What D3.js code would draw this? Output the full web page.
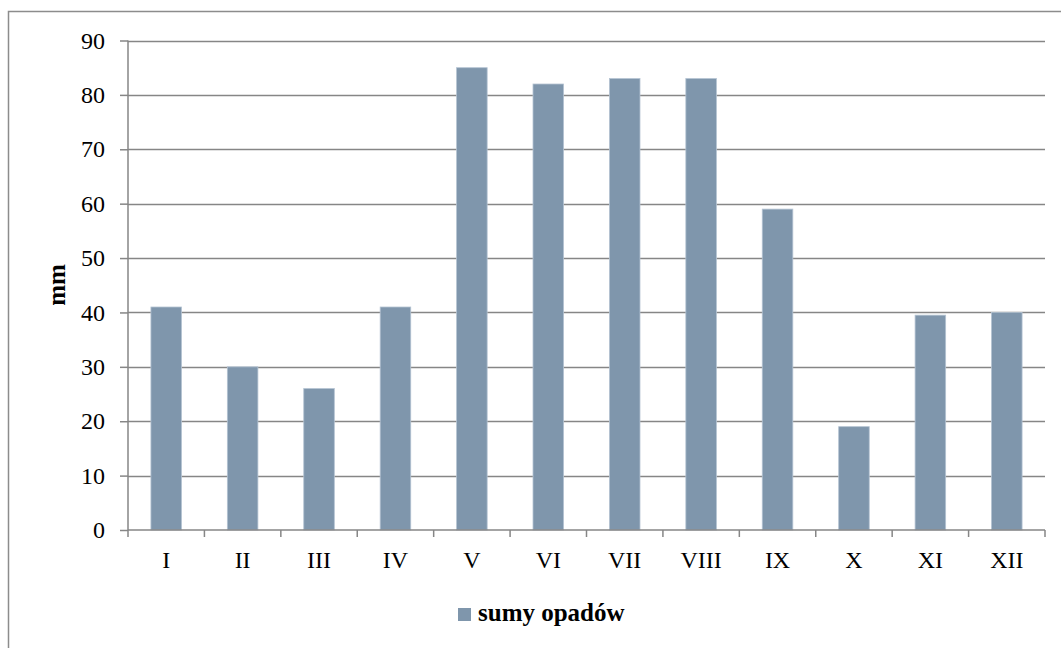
<!DOCTYPE html>
<html><head><meta charset="utf-8">
<script src="https://cdn.jsdelivr.net/npm/d3@7"></script>
<style>body{margin:0;background:#fff}svg{display:block}</style>
</head><body>
<script>
const categories = ["I","II","III","IV","V","VI","VII","VIII","IX","X","XI","XII"];
const values = [41,30,26,41,85,82,83,83,59,19,39.5,40];
const yTicks = [0,10,20,30,40,50,60,70,80,90];
const seriesName = "sumy opadów";
const yLabel = "mm";

const W=1061,H=648;
const svg=d3.select("body").append("svg").attr("width",W).attr("height",H);
const font="'Liberation Serif','DejaVu Serif',serif";
const grid="#868686";
const barColor="#7F96AC";
const fs=24;

// outer frame
svg.append("rect").attr("x",8.5).attr("y",11.5).attr("width",W+10).attr("height",H+10)
  .attr("fill","none").attr("stroke","#8c8c8c").attr("stroke-width",1.5);

const L=128,R=1045,T=40.5,B=530;
const x=d3.scaleBand().domain(categories).range([L,R]).paddingInner(0.6).paddingOuter(0.3);
const xb=d3.scaleBand().domain(categories).range([L,R]);
const y=d3.scaleLinear().domain([0,90]).range([B,T]);

// gridlines
svg.append("g").selectAll("line").data(yTicks.filter(d=>d>0)).join("line")
  .attr("x1",L).attr("x2",R).attr("y1",d=>Math.round(y(d))+0.5).attr("y2",d=>Math.round(y(d))+0.5)
  .attr("stroke",grid).attr("stroke-width",1.5);

// bars
svg.append("g").selectAll("rect").data(values).join("rect")
  .attr("x",(d,i)=>x(categories[i])).attr("width",x.bandwidth())
  .attr("y",d=>y(d)).attr("height",d=>B-y(d))
  .attr("fill",barColor).attr("stroke","#b4c3d2").attr("stroke-width",0.8);

// y axis
const yAxis=d3.axisLeft(y).tickValues(yTicks).tickSize(8).tickPadding(15);
const gy=svg.append("g").attr("transform",`translate(${L},0)`).call(yAxis);
gy.select(".domain").attr("stroke",grid).attr("stroke-width",1.5).attr("d",`M0,${T}V${B}`);
gy.selectAll(".tick line").attr("stroke",grid).attr("stroke-width",1.5);
gy.selectAll(".tick text").attr("font-family",font).attr("font-size",fs).attr("fill","#000");

// x axis
const gx=svg.append("g").attr("transform",`translate(0,${B})`);
gx.append("line").attr("x1",L).attr("x2",R).attr("y1",0).attr("y2",0).attr("stroke",grid).attr("stroke-width",1.5);
const edges=categories.map(c=>xb(c)).concat([R]);
gx.selectAll("line.t").data(edges).join("line").attr("class","t")
  .attr("x1",d=>d).attr("x2",d=>d).attr("y1",0).attr("y2",7).attr("stroke",grid).attr("stroke-width",1.5);
gx.selectAll("text").data(categories).join("text")
  .attr("x",d=>xb(d)+xb.bandwidth()/2).attr("y",38).attr("text-anchor","middle")
  .attr("font-family",font).attr("font-size",fs).attr("fill","#000").text(d=>d);

// y label
svg.append("text").attr("transform",`translate(65,285) rotate(-90)`)
  .attr("text-anchor","middle").attr("font-family",font).attr("font-size",25)
  .attr("font-weight","bold").text(yLabel);

// legend
svg.append("rect").attr("x",458).attr("y",608).attr("width",13).attr("height",13).attr("fill",barColor);
svg.append("text").attr("x",478).attr("y",621).attr("font-family",font).attr("font-size",25)
  .attr("font-weight","bold").text(seriesName);
</script>
</body></html>
